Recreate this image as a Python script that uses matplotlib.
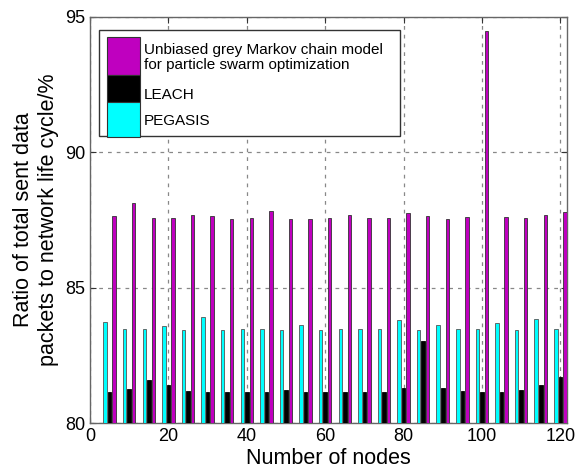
import numpy as np
import matplotlib.pyplot as plt
from matplotlib.patches import Rectangle

plt.rcParams['font.family'] = ['Liberation Sans', 'DejaVu Sans']

# number of nodes for each group of bars
nodes = [5, 10, 15, 20, 25, 30, 35, 40, 45, 50, 55, 60,
         65, 70, 75, 80, 85, 90, 95, 100, 105, 110, 115, 120]

pegasis = [83.75, 83.48, 83.48, 83.58, 83.43, 83.90, 83.43, 83.46, 83.46, 83.43, 83.63, 83.43,
           83.48, 83.46, 83.46, 83.80, 83.43, 83.63, 83.48, 83.48, 83.70, 83.43, 83.85, 83.46]
leach = [81.16, 81.26, 81.60, 81.41, 81.19, 81.14, 81.14, 81.14, 81.16, 81.23, 81.14, 81.14,
         81.14, 81.14, 81.16, 81.28, 83.04, 81.28, 81.19, 81.14, 81.16, 81.23, 81.41, 81.70]
proposed = [87.63, 88.12, 87.59, 87.56, 87.70, 87.63, 87.54, 87.56, 87.84, 87.54, 87.54, 87.57,
            87.69, 87.57, 87.57, 87.77, 87.64, 87.54, 87.62, 94.48, 87.62, 87.57, 87.69, 87.79]

magenta = '#bf00bf'
cyan = '#00ffff'

pos = np.array(nodes, dtype=float)
w = 0.9
off = 1.15

fig = plt.figure(figsize=(5.78, 4.76), dpi=100)
ax = fig.add_axes([0.1557, 0.1113, 0.8253, 0.853])

ax.bar(pos - off, np.array(pegasis) - 80, w, bottom=80, color=cyan, edgecolor='#555555', linewidth=0.6, zorder=3)
ax.bar(pos, np.array(leach) - 80, w, bottom=80, color='black', edgecolor='black', linewidth=0.6, zorder=3)
ax.bar(pos + off, np.array(proposed) - 80, w, bottom=80, color=magenta, edgecolor='#333333', linewidth=0.6, zorder=3)

ax.set_xlim(0, 121.7)
ax.set_ylim(80, 95)
ax.set_xticks(range(0, 121, 20))
ax.set_yticks([80, 85, 90, 95])
ax.tick_params(direction='in', labelsize=13, length=4, top=True, right=True, colors='#333333')
for lab in ax.get_xticklabels() + ax.get_yticklabels():
    lab.set_color('black')
ax.grid(True, linestyle=(0, (3, 4)), color='#888888', linewidth=0.9, zorder=1)
for s in ax.spines.values():
    s.set_color('#666666')
    s.set_linewidth(1.0)

ax.set_xlabel('Number of nodes', fontsize=15.5, labelpad=2)
ax.set_ylabel('Ratio of total sent data\npackets to network life cycle/%', fontsize=15.5)
ax.yaxis.set_label_coords(-0.066, 0.5)

# MATLAB style legend drawn by hand
tr = ax.transAxes
ax.add_patch(Rectangle((0.0189, 0.707), 0.631, 0.261, transform=tr, facecolor='white',
                       edgecolor='#333333', linewidth=1.0, zorder=5))
ax.add_patch(Rectangle((0.0356, 0.857), 0.069, 0.094, transform=tr, facecolor=magenta,
                       edgecolor='#333333', linewidth=0.8, zorder=6))
ax.add_patch(Rectangle((0.0356, 0.791), 0.069, 0.066, transform=tr, facecolor='black',
                       edgecolor='#333333', linewidth=0.8, zorder=6))
ax.add_patch(Rectangle((0.0356, 0.704), 0.069, 0.087, transform=tr, facecolor=cyan,
                       edgecolor='#333333', linewidth=0.8, zorder=6, clip_on=False))
ax.text(0.113, 0.901, 'Unbiased grey Markov chain model\nfor particle swarm optimization',
        transform=tr, fontsize=11, va='center', ha='left', zorder=7, linespacing=1.1)
ax.text(0.113, 0.808, 'LEACH', transform=tr, fontsize=11, va='center', ha='left', zorder=7)
ax.text(0.113, 0.745, 'PEGASIS', transform=tr, fontsize=11, va='center', ha='left', zorder=7)

fig.savefig('out.png', dpi=100)
